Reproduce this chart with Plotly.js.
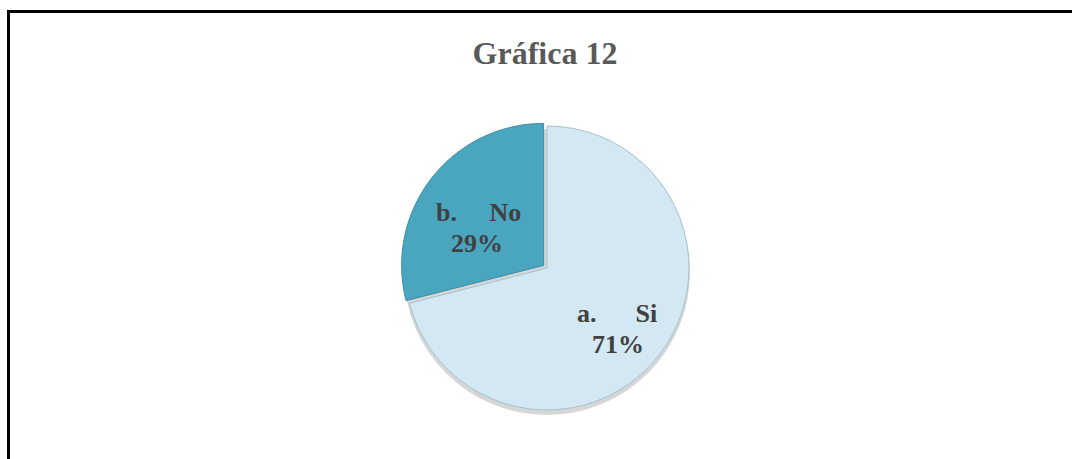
<!DOCTYPE html>
<html>
<head>
<meta charset="utf-8">
<script src="https://cdn.plot.ly/plotly-3.0.1.min.js"></script>
<style>
html,body{margin:0;padding:0;background:#fff;}
#chart{width:1072px;height:459px;}
</style>
</head>
<body>
<div id="chart"></div>
<script>
var categories = ["a.\u00a0\u00a0\u00a0\u00a0\u00a0\u00a0Si", "b.\u00a0\u00a0\u00a0\u00a0\u00a0No"];
var values = [71, 29];
var percentLabels = ["71%", "29%"];
var titleText = "Gráfica 12";

var W = 1072, H = 459;
var cx = 547, cy = 268, r = 142, pullAmt = 0.03;
var R = r * (1 + pullAmt);
var serif = '"Liberation Serif", "Times New Roman", serif';

var trace = {
  type: 'pie',
  labels: categories,
  values: values,
  sort: false,
  direction: 'clockwise',
  rotation: 0,
  pull: [0, pullAmt],
  textinfo: 'none',
  hoverinfo: 'none',
  showlegend: false,
  marker: {
    colors: ['#d3e8f2', '#4aa5bf'],
    line: {color: ['#a3c2d0', '#3a8ea7'], width: 1}
  },
  domain: {
    x: [(cx - R) / W, (cx + R) / W],
    y: [1 - (cy + R) / H, 1 - (cy - R) / H]
  }
};

// label placement (pixel centres) for each slice: [label line, percent line]
var labelPos = [[617, 313, 618, 344], [478, 212, 477, 243]];
var annotations = [];
for (var i = 0; i < categories.length; i++) {
  var p = labelPos[i];
  annotations.push({xref: 'paper', yref: 'paper', x: p[0] / W, y: 1 - p[1] / H,
    xanchor: 'center', yanchor: 'middle', showarrow: false,
    text: '<b>' + categories[i] + '</b>',
    font: {family: serif, size: 26, color: '#404040'}});
  annotations.push({xref: 'paper', yref: 'paper', x: p[2] / W, y: 1 - p[3] / H,
    xanchor: 'center', yanchor: 'middle', showarrow: false,
    text: '<b>' + percentLabels[i] + '</b>',
    font: {family: serif, size: 26, color: '#404040'}});
}

var layout = {
  width: W, height: H,
  margin: {l: 0, r: 0, t: 0, b: 0},
  paper_bgcolor: '#ffffff',
  title: {
    text: '<b>' + titleText + '</b>',
    x: 545 / W, xanchor: 'center',
    y: 1 - 53 / H, yanchor: 'middle',
    font: {family: serif, size: 32, color: '#595959'}
  },
  annotations: annotations,
  shapes: [
    {type: 'rect', xref: 'paper', yref: 'paper', layer: 'below',
     x0: 8.5 / W, x1: 1.05, y0: 1 - 11.5 / H, y1: -0.05,
     line: {color: '#000000', width: 3}, fillcolor: 'rgba(0,0,0,0)'},
    {type: 'circle', xref: 'paper', yref: 'paper', layer: 'below',
     x0: (cx - r - 1) / W, x1: (cx + r + 1) / W,
     y0: 1 - (cy + r + 5) / H, y1: 1 - (cy - r + 3) / H,
     line: {width: 0}, fillcolor: 'rgba(0,0,0,0.16)'}
  ]
};

Plotly.newPlot('chart', [trace], layout, {displayModeBar: false, staticPlot: true});
</script>
</body>
</html>
